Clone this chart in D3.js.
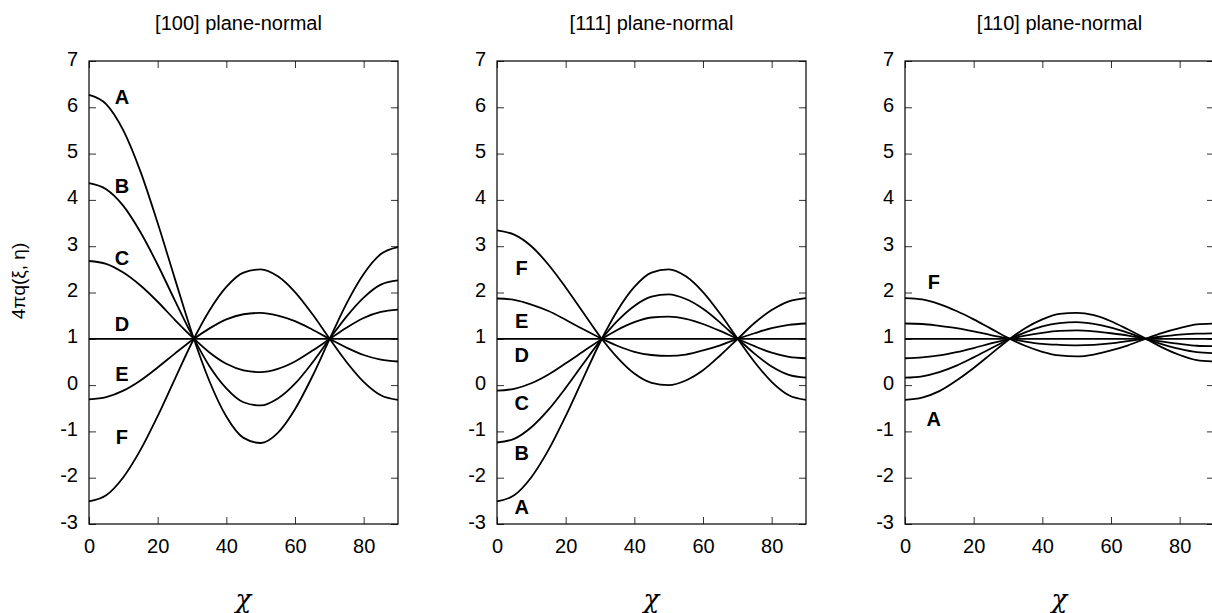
<!DOCTYPE html>
<html>
  <head>
    <meta charset="UTF-8">
    <title>4πq(ξ, η) vs χ</title>
    <style>
      body { margin: 0; background: #fff; }
      text { font-family: "Liberation Sans", Arial, Helvetica, sans-serif; }
    </style>
  </head>
  <body>
    <script src="https://d3js.org/d3.v7.min.js"></script>
    <svg width="1212" height="613" id="chart"></svg>
    <script>

      // chi in degrees, sampled every 5
      var chi = [0, 5, 10, 15, 20, 25, 30, 35, 40, 45, 50, 55, 60, 65, 70, 75, 80, 85, 90];

      var xTicks = [0, 20, 40, 60, 80];
      var yTicks = [-3, -2, -1, 0, 1, 2, 3, 4, 5, 6, 7];
      var panelTitles = ["[100] plane-normal", "[111] plane-normal", "[110] plane-normal"];

      // [100] plane-normal
      var p100_A = [6.27, 6.07, 5.50, 4.61, 3.50, 2.30, 1.12, 0.10, -0.68, -1.14, -1.25, -1.03, -0.52, 0.18, 0.98, 1.76, 2.40, 2.83, 2.98];
      var p100_B = [4.36, 4.23, 3.87, 3.30, 2.60, 1.83, 1.08, 0.42, -0.07, -0.37, -0.44, -0.29, 0.03, 0.48, 0.99, 1.48, 1.89, 2.17, 2.26];
      var p100_C = [2.68, 2.62, 2.43, 2.15, 1.80, 1.41, 1.04, 0.71, 0.46, 0.32, 0.28, 0.35, 0.51, 0.74, 0.99, 1.24, 1.45, 1.58, 1.63];
      var p100_D = [1, 1, 1, 1, 1, 1, 1, 1, 1, 1, 1, 1, 1, 1, 1, 1, 1, 1, 1];
      var p100_E = [-0.31, -0.26, -0.12, 0.10, 0.38, 0.68, 0.97, 1.22, 1.42, 1.53, 1.56, 1.50, 1.38, 1.20, 1.00, 0.81, 0.65, 0.55, 0.51];
      var p100_F = [-2.51, -2.38, -1.99, -1.40, -0.67, 0.13, 0.92, 1.60, 2.12, 2.43, 2.50, 2.35, 2.01, 1.54, 1.01, 0.50, 0.07, -0.22, -0.32];

      // [111] plane-normal
      var p111_A = [-2.51, -2.38, -1.99, -1.40, -0.67, 0.13, 0.92, 1.60, 2.12, 2.43, 2.50, 2.35, 2.01, 1.54, 1.01, 0.50, 0.07, -0.22, -0.32];
      var p111_B = [-1.24, -1.16, -0.91, -0.53, -0.06, 0.45, 0.95, 1.38, 1.71, 1.91, 1.96, 1.86, 1.65, 1.35, 1.01, 0.68, 0.40, 0.22, 0.16];
      var p111_C = [-0.12, -0.08, 0.04, 0.23, 0.47, 0.72, 0.97, 1.19, 1.36, 1.46, 1.48, 1.43, 1.32, 1.17, 1.00, 0.84, 0.70, 0.61, 0.58];
      var p111_D = [1, 1, 1, 1, 1, 1, 1, 1, 1, 1, 1, 1, 1, 1, 1, 1, 1, 1, 1];
      var p111_E = [1.87, 1.84, 1.74, 1.60, 1.41, 1.21, 1.02, 0.85, 0.72, 0.65, 0.63, 0.66, 0.75, 0.86, 1.00, 1.12, 1.23, 1.30, 1.33];
      var p111_F = [3.34, 3.25, 3.00, 2.60, 2.11, 1.58, 1.05, 0.60, 0.25, 0.05, 0.00, 0.10, 0.32, 0.64, 0.99, 1.34, 1.62, 1.81, 1.88];

      // [110] plane-normal
      var p110_A = [-0.32, -0.27, -0.13, 0.10, 0.37, 0.67, 0.97, 1.23, 1.42, 1.54, 1.56, 1.51, 1.38, 1.20, 1.01, 0.81, 0.65, 0.54, 0.51];
      var p110_B = [0.16, 0.19, 0.28, 0.42, 0.60, 0.79, 0.98, 1.14, 1.27, 1.34, 1.36, 1.32, 1.24, 1.13, 1.00, 0.88, 0.78, 0.71, 0.69];
      var p110_C = [0.58, 0.60, 0.64, 0.71, 0.80, 0.90, 0.99, 1.07, 1.13, 1.17, 1.18, 1.16, 1.12, 1.07, 1.00, 0.94, 0.89, 0.85, 0.84];
      var p110_D = [1, 1, 1, 1, 1, 1, 1, 1, 1, 1, 1, 1, 1, 1, 1, 1, 1, 1, 1];
      var p110_E = [1.33, 1.32, 1.28, 1.23, 1.16, 1.08, 1.01, 0.94, 0.89, 0.87, 0.86, 0.87, 0.90, 0.95, 1.00, 1.05, 1.09, 1.11, 1.12];
      var p110_F = [1.88, 1.85, 1.75, 1.60, 1.42, 1.22, 1.02, 0.85, 0.72, 0.64, 0.62, 0.66, 0.75, 0.86, 1.00, 1.13, 1.23, 1.31, 1.33];

      // curve letters: [letter, chi, value]
      var labels100 = [["A", 9.6, 6.23], ["B", 9.6, 4.30], ["C", 9.6, 2.75], ["D", 9.6, 1.32], ["E", 9.6, 0.24], ["F", 9.6, -1.12]];
      var labels111 = [["F", 7.2, 2.53], ["E", 7.2, 1.38], ["D", 7.2, 0.65], ["C", 7.2, -0.38], ["B", 7.2, -1.46], ["A", 7.2, -2.63]];
      var labels110 = [["F", 8.4, 2.23], ["A", 8.4, -0.73]];

      var panels = [
        { title: panelTitles[0], left: 89,  series: [p100_A, p100_B, p100_C, p100_D, p100_E, p100_F], labels: labels100 },
        { title: panelTitles[1], left: 497, series: [p111_A, p111_B, p111_C, p111_D, p111_E, p111_F], labels: labels111 },
        { title: panelTitles[2], left: 905, series: [p110_A, p110_B, p110_C, p110_D, p110_E, p110_F], labels: labels110 }
      ];

      var svg = d3.select("#chart"),
          plotTop = 61,
          width = 309,
          height = 463;

      var y = d3.scaleLinear().domain([-3, 7]).range([height, 0]);
      var x = d3.scaleLinear().domain([0, 90]).range([0, width]);

      // plain hyphen for negatives, like the original
      var plain = function(d) { return String(d); };

      panels.forEach(function(p, pi) {
        var g = svg.append("g").attr("transform", "translate(" + p.left + "," + plotTop + ")");

        // bottom axis with labels
        g.append("g")
          .attr("transform", "translate(0," + height + ")")
          .call(d3.axisBottom(x).tickValues(xTicks).tickSize(-7).tickSizeOuter(0).tickPadding(15).tickFormat(plain))
          .attr("font-family", null).attr("font-size", 20)
          .call(function(a) { a.select(".domain").remove(); })
          .selectAll("text").attr("fill", "#000");

        // top axis, ticks only
        g.append("g")
          .call(d3.axisTop(x).tickValues(xTicks).tickSize(-7).tickSizeOuter(0).tickFormat(""))
          .call(function(a) { a.select(".domain").remove(); });

        // left axis with labels
        g.append("g")
          .call(d3.axisLeft(y).tickValues(yTicks).tickSize(-7).tickSizeOuter(0).tickPadding(11).tickFormat(plain))
          .attr("font-family", null).attr("font-size", 20)
          .call(function(a) { a.select(".domain").remove(); })
          .selectAll("text").attr("fill", "#000").attr("dy", "0.2em");

        // right axis, ticks only
        g.append("g")
          .attr("transform", "translate(" + width + ",0)")
          .call(d3.axisRight(y).tickValues(yTicks).tickSize(-7).tickSizeOuter(0).tickFormat(""))
          .call(function(a) { a.select(".domain").remove(); });

        g.selectAll(".tick line").attr("stroke", "#333");

        // frame
        g.append("rect")
          .attr("width", width).attr("height", height)
          .attr("fill", "none").attr("stroke", "#000").attr("stroke-width", 1.2);

        var line = d3.line()
          .x(function(d, i) { return x(chi[i]); })
          .y(function(d) { return y(d); })
          .curve(d3.curveMonotoneX);

        g.selectAll(".curve")
          .data(p.series)
          .enter().append("path")
          .attr("class", "curve")
          .attr("d", line)
          .attr("fill", "none")
          .attr("stroke", "#000")
          .attr("stroke-width", 1.8);

        g.selectAll(".lbl")
          .data(p.labels)
          .enter().append("text")
          .attr("class", "lbl")
          .attr("x", function(d) { return x(d[1]); })
          .attr("y", function(d) { return y(d[2]); })
          .attr("text-anchor", "middle")
          .attr("dominant-baseline", "central")
          .attr("font-size", 20)
          .attr("font-weight", "bold")
          .text(function(d) { return d[0]; });

        // title
        svg.append("text")
          .attr("x", p.left + width / 2 - (pi == 0 ? 5 : 0))
          .attr("y", 23)
          .attr("text-anchor", "middle")
          .attr("dominant-baseline", "central")
          .attr("font-size", 20)
          .text(p.title);

        // x label
        svg.append("text")
          .attr("x", p.left + width / 2)
          .attr("y", 599)
          .attr("text-anchor", "middle")
          .attr("dominant-baseline", "central")
          .attr("font-size", 26)
          .style("font-family", "'DejaVu Serif', 'Liberation Serif', serif")
          .style("font-style", "italic")
          .text("χ");
      });

      // y label
      svg.append("text")
        .attr("transform", "translate(18,281) rotate(-90)")
        .attr("text-anchor", "middle")
        .attr("dominant-baseline", "central")
        .attr("font-size", 19)
        .text("4πq(ξ, η)");
    </script>
  </body>
</html>
